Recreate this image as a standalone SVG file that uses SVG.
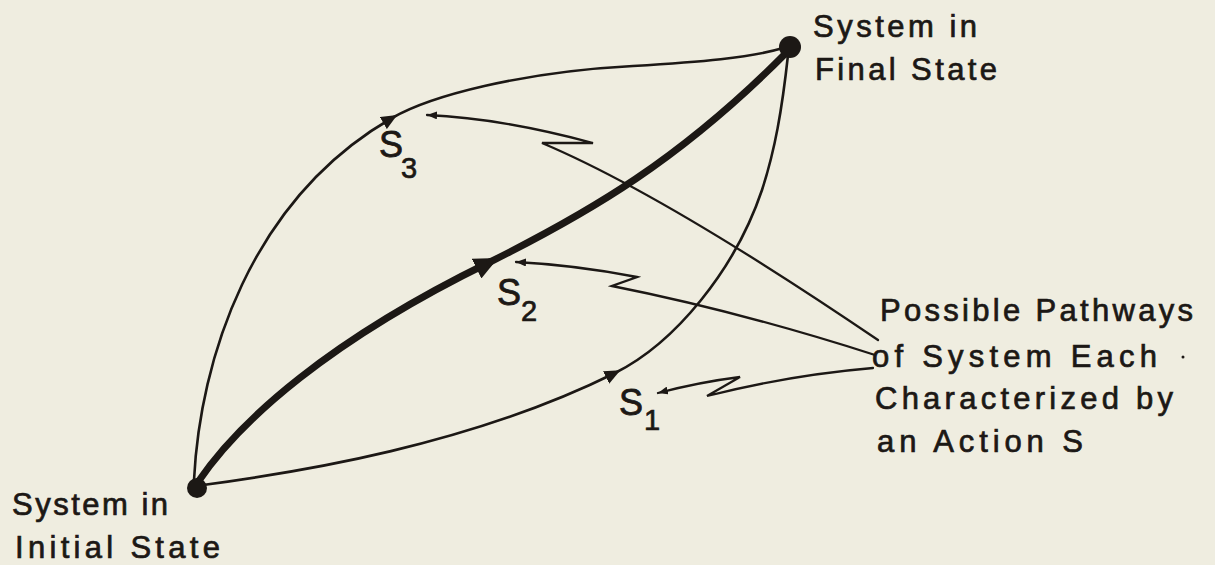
<svg xmlns="http://www.w3.org/2000/svg" width="1215" height="565" viewBox="0 0 1215 565">
<style>
  .bg { fill: #efede0; }
  .lbl { font-family: "Liberation Sans", Arial, sans-serif; font-size: 31px; fill: #1c1815; stroke: #1c1815; stroke-width: 0.7; }
  .s { font-family: "Liberation Sans", Arial, sans-serif; font-size: 36px; fill: #1c1815; stroke: #1c1815; stroke-width: 0.8; }
  .sub { font-family: "Liberation Sans", Arial, sans-serif; font-size: 29px; fill: #1c1815; stroke: #1c1815; stroke-width: 0.7; }
  .path { fill: none; stroke: #1c1815; stroke-width: 2.6; stroke-linecap: round; }
  .thick { fill: none; stroke: #1c1815; stroke-width: 7; stroke-linecap: round; }
  .leader { fill: none; stroke: #1c1815; stroke-width: 2.3; stroke-linecap: round; stroke-linejoin: miter; }
  .dot { fill: #1c1815; }
</style>
<defs>
  <marker id="ah" viewBox="0 0 16 14" refX="10" refY="7" markerWidth="16" markerHeight="14" orient="auto" markerUnits="userSpaceOnUse">
    <path d="M0,0 L16,7 L0,14 z" fill="#1c1815"/>
  </marker>
  <marker id="ahBig" viewBox="0 0 24 22" refX="15" refY="11" markerWidth="24" markerHeight="22" orient="auto" markerUnits="userSpaceOnUse">
    <path d="M0,0 L24,11 L0,22 z" fill="#1c1815"/>
  </marker>
  <marker id="ahSmall" viewBox="0 0 10 8" refX="10" refY="4" markerWidth="10" markerHeight="8" orient="auto-start-reverse" markerUnits="userSpaceOnUse">
    <path d="M0,0 L10,4 L0,8 z" fill="#1c1815"/>
  </marker>
</defs>
<rect class="bg" x="0" y="0" width="1215" height="565"/>

<g id="connectors">
  <!-- Path S3 -->
  <path class="path" d="M194,480 C200,360 250,200 392,118" marker-end="url(#ah)"/>
  <path class="path" d="M392,118 C430,96 520,72 633,66 C700,62 750,58 783,48"/>
  <!-- Path S2 (thick) -->
  <path class="thick" d="M198,482 C240,420 330,340 490,262" marker-end="url(#ahBig)"/>
  <path class="thick" d="M490,262 C590,212 680,160 787,52"/>
  <!-- Path S1 -->
  <path class="path" d="M203,485 C300,472 470,445 615,373" marker-end="url(#ah)"/>
  <path class="path" d="M615,373 C675,343 735,270 762,190 C775,150 782,110 788,55"/>
  <!-- Leaders -->
  <path class="leader" d="M427,115 Q500,118 593,143 L542,143 Q663,194 878,340" marker-start="url(#ahSmall)"/>
  <path class="leader" d="M516,262 Q575,265 637,277 L612,286 Q738,311 875,355" marker-start="url(#ahSmall)"/>
  <path class="leader" d="M658,393 Q700,382 740,377 L707,396 Q790,375 873,368" marker-start="url(#ahSmall)"/>
</g>

<g id="node-initial">
  <circle class="dot" cx="197" cy="488" r="10"/>
  <text class="lbl" x="12" y="515" textLength="156" lengthAdjust="spacing">System in</text>
  <text class="lbl" x="15" y="558" textLength="205" lengthAdjust="spacing">Initial State</text>
</g>

<g id="node-final">
  <circle class="dot" cx="790" cy="47" r="11"/>
  <text class="lbl" x="813" y="37" textLength="164" lengthAdjust="spacing">System in</text>
  <text class="lbl" x="815" y="80" textLength="182" lengthAdjust="spacing">Final State</text>
</g>

<g id="label-s3">
  <text class="s" x="379" y="157">S</text>
  <text class="sub" x="401" y="178">3</text>
</g>
<g id="label-s2">
  <text class="s" x="497" y="305">S</text>
  <text class="sub" x="521" y="321">2</text>
</g>
<g id="label-s1">
  <text class="s" x="619" y="415">S</text>
  <text class="sub" x="644" y="430">1</text>
</g>

<g id="note">
  <text class="lbl" x="880" y="321" textLength="313" lengthAdjust="spacing">Possible Pathways</text>
  <text class="lbl" x="872" y="367" textLength="285" lengthAdjust="spacing">of System Each</text>
  <text class="lbl" x="875" y="409" textLength="298" lengthAdjust="spacing">Characterized by</text>
  <text class="lbl" x="877" y="452" textLength="206" lengthAdjust="spacing">an Action S</text>
  <circle class="dot" cx="1183" cy="357" r="1.5"/>
</g>
</svg>
